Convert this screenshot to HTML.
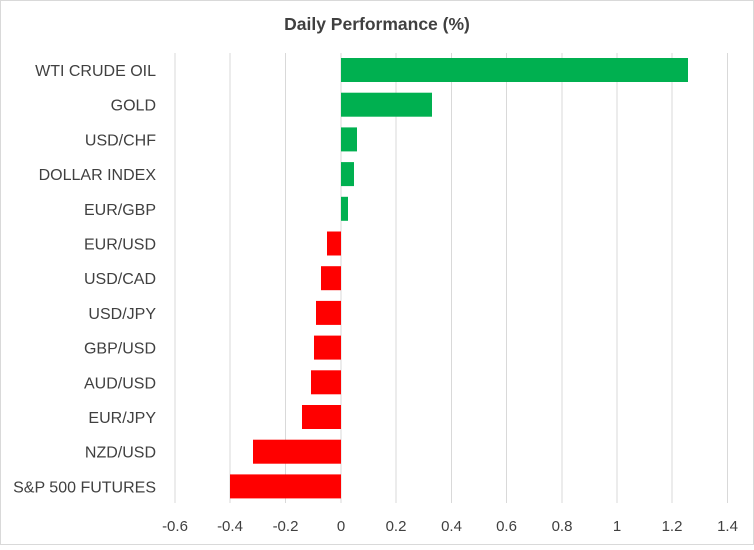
<!DOCTYPE html><html><head><style>body{margin:0;background:#fff}</style></head><body>
<svg width="754" height="545" xmlns="http://www.w3.org/2000/svg" font-family="Liberation Sans, sans-serif">
<rect x="0.5" y="0.5" width="753" height="544" fill="#fff" stroke="#d9d9d9"/>
<text x="377" y="30" text-anchor="middle" font-size="17.5" font-weight="bold" fill="#404040">Daily Performance (%)</text>
<g stroke="#d9d9d9" stroke-width="1">
<line x1="175" y1="53" x2="175" y2="503"/><line x1="230" y1="53" x2="230" y2="503"/><line x1="285.5" y1="53" x2="285.5" y2="503"/><line x1="341" y1="53" x2="341" y2="503"/><line x1="396" y1="53" x2="396" y2="503"/><line x1="451.5" y1="53" x2="451.5" y2="503"/><line x1="506.5" y1="53" x2="506.5" y2="503"/><line x1="562" y1="53" x2="562" y2="503"/><line x1="617" y1="53" x2="617" y2="503"/><line x1="672" y1="53" x2="672" y2="503"/><line x1="727.5" y1="53" x2="727.5" y2="503"/>
</g>
<g fill="#00b050">
<rect x="341" y="58" width="347" height="24"/>
<rect x="341" y="92.7" width="91" height="24"/>
<rect x="341" y="127.4" width="16" height="24"/>
<rect x="341" y="162.1" width="13" height="24"/>
<rect x="341" y="196.8" width="7" height="24"/>
</g>
<g fill="#ff0000">
<rect x="327" y="231.5" width="14" height="24"/>
<rect x="321" y="266.2" width="20" height="24"/>
<rect x="316" y="300.9" width="25" height="24"/>
<rect x="314" y="335.6" width="27" height="24"/>
<rect x="311" y="370.3" width="30" height="24"/>
<rect x="302" y="405" width="39" height="24"/>
<rect x="253" y="439.7" width="88" height="24"/>
<rect x="230" y="474.4" width="111" height="24"/>
</g>
<g font-size="16" fill="#404040" text-anchor="end">
<text x="156" y="76">WTI CRUDE OIL</text>
<text x="156" y="110.7">GOLD</text>
<text x="156" y="145.4">USD/CHF</text>
<text x="156" y="180.1">DOLLAR INDEX</text>
<text x="156" y="214.8">EUR/GBP</text>
<text x="156" y="249.5">EUR/USD</text>
<text x="156" y="284.2">USD/CAD</text>
<text x="156" y="318.9">USD/JPY</text>
<text x="156" y="353.6">GBP/USD</text>
<text x="156" y="388.3">AUD/USD</text>
<text x="156" y="423">EUR/JPY</text>
<text x="156" y="457.7">NZD/USD</text>
<text x="156" y="492.4">S&amp;P 500 FUTURES</text>
</g>
<g font-size="15" fill="#404040" text-anchor="middle">
<text x="175" y="531">-0.6</text><text x="230" y="531">-0.4</text><text x="285.5" y="531">-0.2</text><text x="341" y="531">0</text><text x="396" y="531">0.2</text><text x="451.5" y="531">0.4</text><text x="506.5" y="531">0.6</text><text x="562" y="531">0.8</text><text x="617" y="531">1</text><text x="672" y="531">1.2</text><text x="727.5" y="531">1.4</text>
</g>
</svg></body></html>
